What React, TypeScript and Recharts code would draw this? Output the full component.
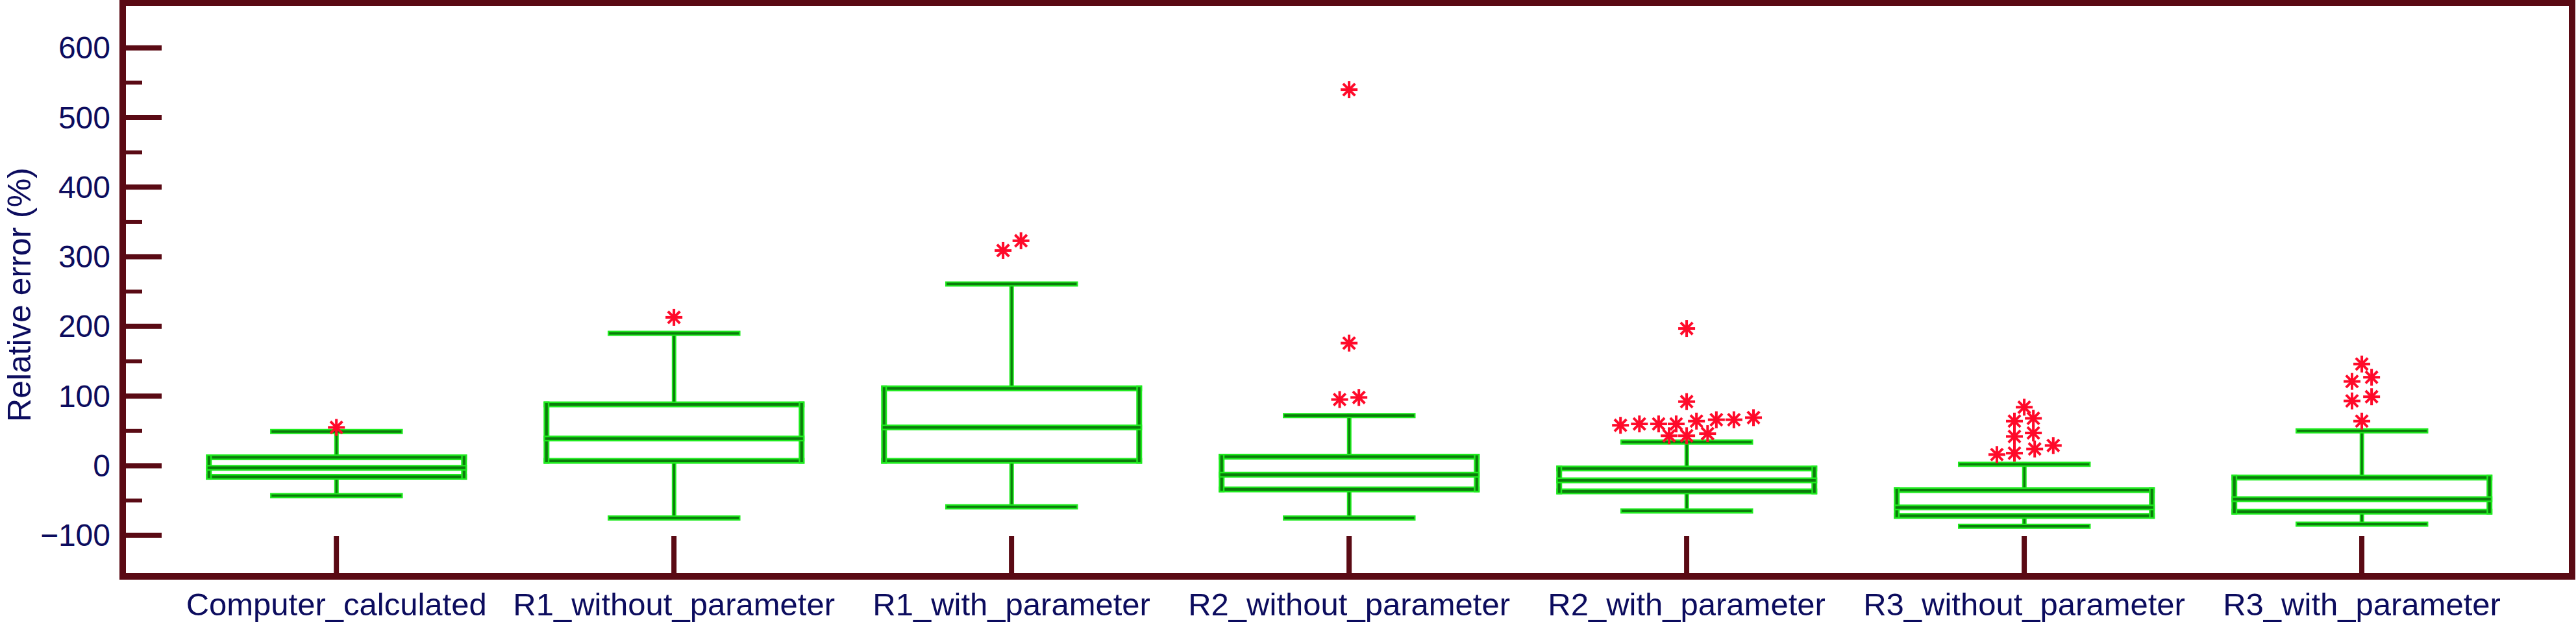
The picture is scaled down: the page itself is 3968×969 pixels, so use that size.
import React from 'react';
import { ComposedChart, Bar, Scatter, XAxis, YAxis, ReferenceArea } from 'recharts';

// categories along the x axis
const categories = [
  'Computer_calculated',
  'R1_without_parameter',
  'R1_with_parameter',
  'R2_without_parameter',
  'R2_with_parameter',
  'R3_without_parameter',
  'R3_with_parameter',
];

// box plot statistics, relative error (%)
const whiskerLow = [-43, -75, -59, -75, -65, -87, -84];
const quartile1 = [-16, 7, 7, -34, -37, -72, -66];
const medians = [-3, 39, 55, -13, -21, -60, -48];
const quartile3 = [12, 88, 111, 13, -4, -35, -17];
const whiskerHigh = [49, 190, 261, 72, 34, 2, 50];

// outliers: [category number, horizontal shift, value]
const outliers: [number, number, number][] = [
  [1, 0, 55],
  [2, 0, 213],
  [3, -0.025, 309], [3, 0.028, 323],
  [4, 0, 540], [4, 0, 176], [4, -0.028, 95], [4, 0.029, 98],
  [5, 0, 197], [5, 0, 92],
  [5, -0.196, 58], [5, -0.14, 60], [5, -0.083, 60], [5, -0.031, 60],
  [5, 0.029, 64], [5, 0.088, 66], [5, 0.14, 66], [5, 0.198, 69],
  [5, -0.052, 43], [5, 0, 43], [5, 0.062, 46],
  [6, 0, 84], [6, -0.029, 64], [6, 0.027, 68], [6, -0.029, 42], [6, 0.027, 47],
  [6, -0.081, 16], [6, -0.029, 18], [6, 0.031, 24], [6, 0.086, 29],
  [7, 0, 146], [7, -0.029, 121], [7, 0.029, 127], [7, -0.029, 93], [7, 0.029, 99], [7, 0, 64],
];

const yTicks = [-100, -50, 0, 50, 100, 150, 200, 250, 300, 350, 400, 450, 500, 550, 600];
const xTicks = [1, 2, 3, 4, 5, 6, 7];

const boxRows = categories.map((name, i) => ({
  x: i + 1,
  name,
  range: [whiskerLow[i], whiskerHigh[i]],
  lo: whiskerLow[i],
  q1: quartile1[i],
  med: medians[i],
  q3: quartile3[i],
  hi: whiskerHigh[i],
}));

const outlierRows = outliers.map(([g, s, v]) => ({ x: g + s, v }));

const FRAME = '#5a0a14';
const NAVY = '#0c0c5e';
const FONT = '"Liberation Sans", Arial, sans-serif';
const BOX_W = 393;

const GreenLine = ({ x1, y1, x2, y2, w = 9 }: any) => (
  <g>
    <line x1={x1} y1={y1} x2={x2} y2={y2} stroke="#1fea1f" strokeWidth={w} strokeLinecap="square" />
    <line x1={x1} y1={y1} x2={x2} y2={y2} stroke="#0b7c0b" strokeWidth={w / 2.2} strokeLinecap="square" />
  </g>
);

// the bar spans the whiskers; quartiles and median are placed inside it on the same scale
const BoxShape = (props: any) => {
  const { x, y, width, height, payload } = props;
  const { lo, q1, med, q3, hi } = payload;
  const py = (v: number) => y + (height * (hi - v)) / (hi - lo);
  const cx = x + width / 2;
  const left = cx - BOX_W / 2;
  const right = cx + BOX_W / 2;
  const cap = BOX_W / 4;
  const top = py(q3);
  const bot = py(q1);
  return (
    <g>
      <GreenLine x1={cx} y1={py(hi)} x2={cx} y2={top} w={7} />
      <GreenLine x1={cx} y1={bot} x2={cx} y2={py(lo)} w={7} />
      <GreenLine x1={cx - cap} y1={py(hi)} x2={cx + cap} y2={py(hi)} w={8} />
      <GreenLine x1={cx - cap} y1={py(lo)} x2={cx + cap} y2={py(lo)} w={8} />
      <GreenLine x1={left} y1={top} x2={right} y2={top} />
      <GreenLine x1={left} y1={bot} x2={right} y2={bot} />
      <GreenLine x1={left} y1={top} x2={left} y2={bot} />
      <GreenLine x1={right} y1={top} x2={right} y2={bot} />
      <GreenLine x1={left} y1={py(med)} x2={right} y2={py(med)} />
    </g>
  );
};

const Asterisk = (props: any) => {
  const { cx, cy } = props;
  const r = 13;
  const d = r * 0.707;
  return (
    <g stroke="#ff0a2a" strokeWidth={4}>
      <line x1={cx - r} y1={cy} x2={cx + r} y2={cy} />
      <line x1={cx} y1={cy - r} x2={cx} y2={cy + r} />
      <line x1={cx - d} y1={cy - d} x2={cx + d} y2={cy + d} />
      <line x1={cx - d} y1={cy + d} x2={cx + d} y2={cy - d} />
    </g>
  );
};

const YTick = (props: any) => {
  const { x, y, payload } = props;
  const major = payload.value % 100 === 0;
  const axisX = x + 19;
  return (
    <g>
      <line x1={axisX} y1={y} x2={axisX + (major ? 60 : 30)} y2={y} stroke={FRAME} strokeWidth={major ? 8 : 6} />
      {major && (
        <text x={x} y={y} textAnchor="end" dominantBaseline="central" fill={NAVY} fontSize={48} fontFamily={FONT}>
          {payload.value < 0 ? `\u2212${Math.abs(payload.value)}` : payload.value}
        </text>
      )}
    </g>
  );
};

const XTick = (props: any) => {
  const { x, y, payload } = props;
  return (
    <g>
      <line x1={x} y1={y} x2={x} y2={y - 62} stroke={FRAME} strokeWidth={8} />
      <text x={x} y={y + 60} textAnchor="middle" fill={NAVY} fontSize={49} fontFamily={FONT}>
        {categories[payload.value - 1]}
      </text>
    </g>
  );
};

const YLabel = (props: any) => {
  const { viewBox } = props;
  const cx = viewBox.x + 30;
  const cy = viewBox.y + viewBox.height / 2 + 8;
  return (
    <text
      x={cx}
      y={cy}
      transform={`rotate(-90 ${cx} ${cy})`}
      textAnchor="middle"
      dominantBaseline="central"
      fill={NAVY}
      fontSize={50}
      fontFamily={FONT}
    >
      Relative error (%)
    </text>
  );
};

export default function App() {
  return (
    <div style={{ width: 3968, height: 969, background: '#fff' }}>
      <style>{'body{margin:0}'}</style>
      <ComposedChart width={3968} height={969} data={boxRows} margin={{ top: 4, right: 6, bottom: 0, left: 0 }}>
        <XAxis
          dataKey="x"
          type="number"
          domain={[0.367, 7.623]}
          ticks={xTicks}
          interval={0}
          allowDataOverflow
          height={81}
          axisLine={false}
          tickLine={false}
          tickSize={0}
          tickMargin={0}
          tick={<XTick />}
        />
        <YAxis
          type="number"
          domain={[-159, 665]}
          ticks={yTicks}
          interval={0}
          allowDataOverflow
          width={189}
          axisLine={false}
          tickLine={false}
          tickSize={0}
          tickMargin={19}
          tick={<YTick />}
          label={(p: any) => <YLabel {...p} />}
        />
        <Bar dataKey="range" shape={<BoxShape />} isAnimationActive={false} />
        <Scatter data={outlierRows} dataKey="v" shape={<Asterisk />} isAnimationActive={false} />
        <ReferenceArea
          x1={0.367}
          x2={7.623}
          y1={-159}
          y2={665}
          fill="none"
          fillOpacity={0}
          stroke={FRAME}
          strokeWidth={10}
          ifOverflow="visible"
        />
      </ComposedChart>
    </div>
  );
}
